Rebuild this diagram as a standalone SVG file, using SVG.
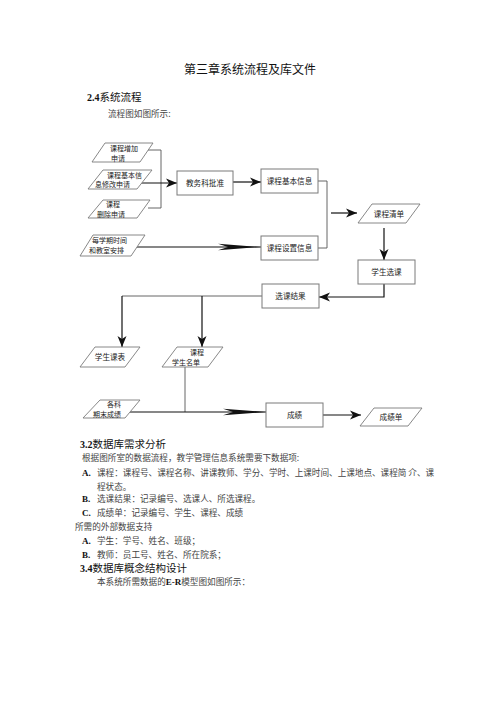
<svg xmlns="http://www.w3.org/2000/svg" width="500" height="708" viewBox="0 0 500 708">
<defs>
<style>
.box{fill:#fff;stroke:#7a7a7a;stroke-width:1}
.para{fill:#fff;stroke:#7a7a7a;stroke-width:0.9}
.lbl{font-family:"Noto Sans CJK SC","Noto Sans",sans-serif;font-size:7.6px;fill:#222;text-anchor:middle}
.lbs{font-family:"Noto Sans CJK SC","Noto Sans",sans-serif;font-size:7px;fill:#222}
.ln{fill:none;stroke:#111;stroke-width:1.2}
.br{fill:none;stroke:#555;stroke-width:0.9}
.h{font-family:"Noto Sans CJK SC","Noto Sans",sans-serif;font-size:10.5px;fill:#111}
.hn{font-family:"Liberation Serif",serif;font-weight:bold;font-size:10px;fill:#111}
.body{font-family:"Noto Sans CJK SC","Noto Sans",sans-serif;font-size:8.6px;fill:#444}
.ab{font-family:"Liberation Serif",serif;font-weight:bold;font-size:9px;fill:#111}
</style>
<marker id="ah" markerUnits="userSpaceOnUse" markerWidth="12" markerHeight="10" viewBox="0 0 12 10" refX="11" refY="5" orient="auto">
<path d="M0,0.5 L11,5 L0,9.5 L3,5 Z" fill="#111"/>
</marker>
<marker id="al" markerUnits="userSpaceOnUse" markerWidth="44" markerHeight="8" viewBox="0 0 44 8" refX="43" refY="4" orient="auto">
<path d="M0,0.8 L43,4 L0,7.2 L10,4 Z" fill="#111"/>
</marker>
</defs>
<rect width="500" height="708" fill="#fff"/>

<text x="250" y="74" font-family="Noto Sans CJK SC,sans-serif" font-size="12" fill="#111" text-anchor="middle">第三章系统流程及库文件</text>
<text x="87" y="101"><tspan class="hn">2.4</tspan><tspan class="h">系统流程</tspan></text>
<text x="108" y="117" class="body">流程图如图所示:</text>

<g id="connectors">
<polyline class="br" points="148,150 161,150 161,208 148,208"/>
<line class="ln" x1="137" y1="183" x2="177" y2="183" marker-end="url(#ah)"/>
<line class="ln" x1="233" y1="182" x2="261" y2="182" marker-end="url(#ah)"/>
<polyline class="br" points="318,181 327,181 327,248 318,248"/>
<line class="ln" x1="130" y1="247" x2="261" y2="247" marker-end="url(#al)"/>
<line class="ln" x1="331" y1="213" x2="357" y2="213" marker-end="url(#ah)"/>
<line class="ln" x1="384" y1="228" x2="384" y2="260" marker-end="url(#ah)"/>
<polyline class="ln" points="384,284 384,297 319,297" marker-end="url(#ah)"/>
<polyline class="br" points="262,296 122,296"/>
<line class="ln" x1="122" y1="296" x2="122" y2="347" marker-end="url(#ah)"/>
<line class="ln" x1="202" y1="296" x2="202" y2="347" marker-end="url(#ah)"/>
<line class="br" x1="185" y1="367" x2="185" y2="412"/>
<line class="ln" x1="130" y1="412" x2="266" y2="412" marker-end="url(#al)"/>
<line class="ln" x1="323" y1="415" x2="361" y2="415" marker-end="url(#ah)"/>
</g>

<g id="n_add">
<polygon class="para" points="105,143 153,143 140,162 92,162"/>
<text class="lbs" x="110" y="151">课程增加</text>
<text class="lbs" x="111" y="160.5">申请</text>
</g>
<g id="n_modify">
<polygon class="para" points="103,170 152,170 137,189 88,189"/>
<text class="lbs" x="107" y="177.5">课程基本信</text>
<text class="lbs" x="95" y="187">息修改申请</text>
</g>
<g id="n_delete">
<polygon class="para" points="103,200 150,200 137,218 88,218"/>
<text class="lbs" x="106" y="207">课程</text>
<text class="lbs" x="97" y="216.5">删除申请</text>
</g>
<g id="n_approve">
<rect class="box" x="177" y="171" width="56" height="24"/>
<text class="lbl" x="205" y="186">教务科批准</text>
</g>
<g id="n_basic">
<rect class="box" x="261" y="169" width="57" height="24"/>
<text class="lbl" x="289.5" y="184">课程基本信息</text>
</g>
<g id="n_term">
<polygon class="para" points="93,235 145,235 131,256 80,256"/>
<text class="lbs" x="92" y="242.5">每学期时间</text>
<text class="lbs" x="89" y="253">和教室安排</text>
</g>
<g id="n_setting">
<rect class="box" x="261" y="236" width="57" height="24"/>
<text class="lbl" x="289.5" y="251">课程设置信息</text>
</g>
<g id="n_list">
<polygon class="para" points="372,204 420,204 406,223 358,223"/>
<text class="lbl" x="389" y="216.5">课程清单</text>
</g>
<g id="n_select">
<rect class="box" x="358" y="260" width="57" height="24"/>
<text class="lbl" x="386.5" y="275">学生选课</text>
</g>
<g id="n_result">
<rect class="box" x="262" y="284" width="57" height="24"/>
<text class="lbl" x="290.5" y="299">选课结果</text>
</g>
<g id="n_timetable">
<polygon class="para" points="95,347 140,347 125,367 80,367"/>
<text class="lbl" x="110" y="360">学生课表</text>
</g>
<g id="n_roster">
<polygon class="para" points="177,347 223,347 208,367 162,367"/>
<text class="lbs" x="190" y="354.5">课程</text>
<text class="lbs" x="172" y="365">学生名单</text>
</g>
<g id="n_exam">
<polygon class="para" points="100,400 140,400 125,418 83,418"/>
<text class="lbs" x="107" y="406.5">各科</text>
<text class="lbs" x="93" y="416.5">期末成绩</text>
</g>
<g id="n_score">
<rect class="box" x="266" y="403" width="57" height="24"/>
<text class="lbl" x="294.5" y="418">成绩</text>
</g>
<g id="n_scoresheet">
<polygon class="para" points="374,408 422,408 408,426 360,426"/>
<text class="lbl" x="391" y="420">成绩单</text>
</g>

<text x="80" y="448"><tspan class="hn">3.2</tspan><tspan class="h">数据库需求分析</tspan></text>
<text class="body" x="82" y="461">根据图所室的数据流程，教学管理信息系统需要下数据项:</text>
<text class="ab" x="82" y="476">A.</text>
<text class="body" x="97" y="476">课程：课程号、课程名称、讲课教师、学分、学时、上课时间、上课地点、课程简  介、课</text>
<text class="body" x="97" y="490">程状态。</text>
<text class="ab" x="82" y="502">B.</text>
<text class="body" x="97" y="502">选课结果：记录编号、选课人、所选课程。</text>
<text class="ab" x="82" y="516">C.</text>
<text class="body" x="97" y="516">成绩单：记录编号、学生、课程、成绩</text>
<text class="body" x="75" y="530">所需的外部数据支持</text>
<text class="ab" x="82" y="544">A.</text>
<text class="body" x="97" y="544">学生：学号、姓名、班级；</text>
<text class="ab" x="82" y="558">B.</text>
<text class="body" x="97" y="558">教师：员工号、姓名、所在院系；</text>
<text x="80" y="572"><tspan class="hn">3.4</tspan><tspan class="h">数据库概念结构设计</tspan></text>
<text x="97" y="585"><tspan class="body">本系统所需数据的</tspan><tspan class="ab">E-R</tspan><tspan class="body">模型图如图所示：</tspan></text>
</svg>
